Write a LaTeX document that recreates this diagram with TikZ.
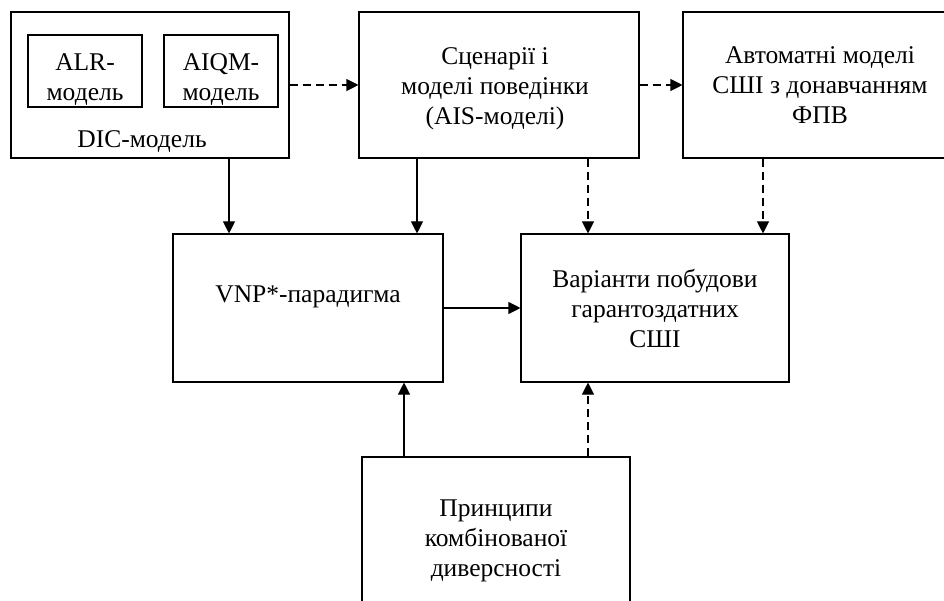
\documentclass[tikz,border=0pt]{standalone}
\usepackage{fontspec}
\setmainfont{Liberation Serif}
\usetikzlibrary{arrows.meta}
\begin{document}
\begin{tikzpicture}[x=1pt,y=-1pt,
  txt/.style={align=center, font=\fontsize{25.5}{30}\selectfont, inner sep=0pt},
  box/.style={txt, draw, line width=1.1pt},
  arr/.style={line width=1.1pt, -{Triangle[length=12pt,width=12pt]}},
  dsh/.style={arr, dash pattern=on 8pt off 5pt}]
\useasboundingbox (0,0) rectangle (944,601);
\clip (0,0) rectangle (944,601);
% top row
\node[box, minimum width=278pt, minimum height=146pt] (dic) at (150,85) {};
\node[box, minimum width=114pt, minimum height=72pt] (alr) at (85,71) {};
\node[txt] (alrt) at (85,79.5) {ALR-\\модель};
\node[box, minimum width=114pt, minimum height=72pt] (aiqm) at (221,71) {};
\node[txt] (aiqmt) at (221,79.5) {AIQM-\\модель};
\node[txt, anchor=base] (diclbl) at (142,148) {DIC-модель};
\node[box, minimum width=280pt, minimum height=146pt] (scen) at (499,85) {};
\node[txt] (scent) at (495,88.5) {Сценарії і\\моделі поведінки\\(AIS-моделі)};
\node[box, minimum width=274pt, minimum height=146pt] (auto) at (820,85) {Автоматні моделі\\СШІ з донавчанням\\ФПВ};
% middle row
\node[box, minimum width=270pt, minimum height=148pt] (vnp) at (308,308) {};
\node[txt] (vnpt) at (308,297) {VNP*-парадигма};
\node[box, minimum width=268pt, minimum height=148pt] (var) at (655,308) {Варіанти побудови\\гарантоздатних\\СШІ};
% bottom
\node[box, minimum width=268pt, minimum height=168pt] (pr) at (496,541) {Принципи\\комбінованої\\диверсності};
% column coordinates
\coordinate (c1) at (229,0);
\coordinate (c2) at (417,0);
\coordinate (c3) at (588,0);
\coordinate (c4) at (763,0);
\coordinate (c5) at (404,0);
% connectors
\draw[dsh] (dic) -- (scen);
\draw[dsh] (scen) -- (auto);
\draw[arr] (dic.south -| c1) -- (vnp.north -| c1);
\draw[arr] (scen.south -| c2) -- (vnp.north -| c2);
\draw[dsh] (scen.south -| c3) -- (var.north -| c3);
\draw[dsh] (auto.south -| c4) -- (var.north -| c4);
\draw[arr] (vnp) -- (var);
\draw[arr] (pr.north -| c5) -- (vnp.south -| c5);
\draw[dsh] (pr.north -| c3) -- (var.south -| c3);
\end{tikzpicture}
\end{document}
